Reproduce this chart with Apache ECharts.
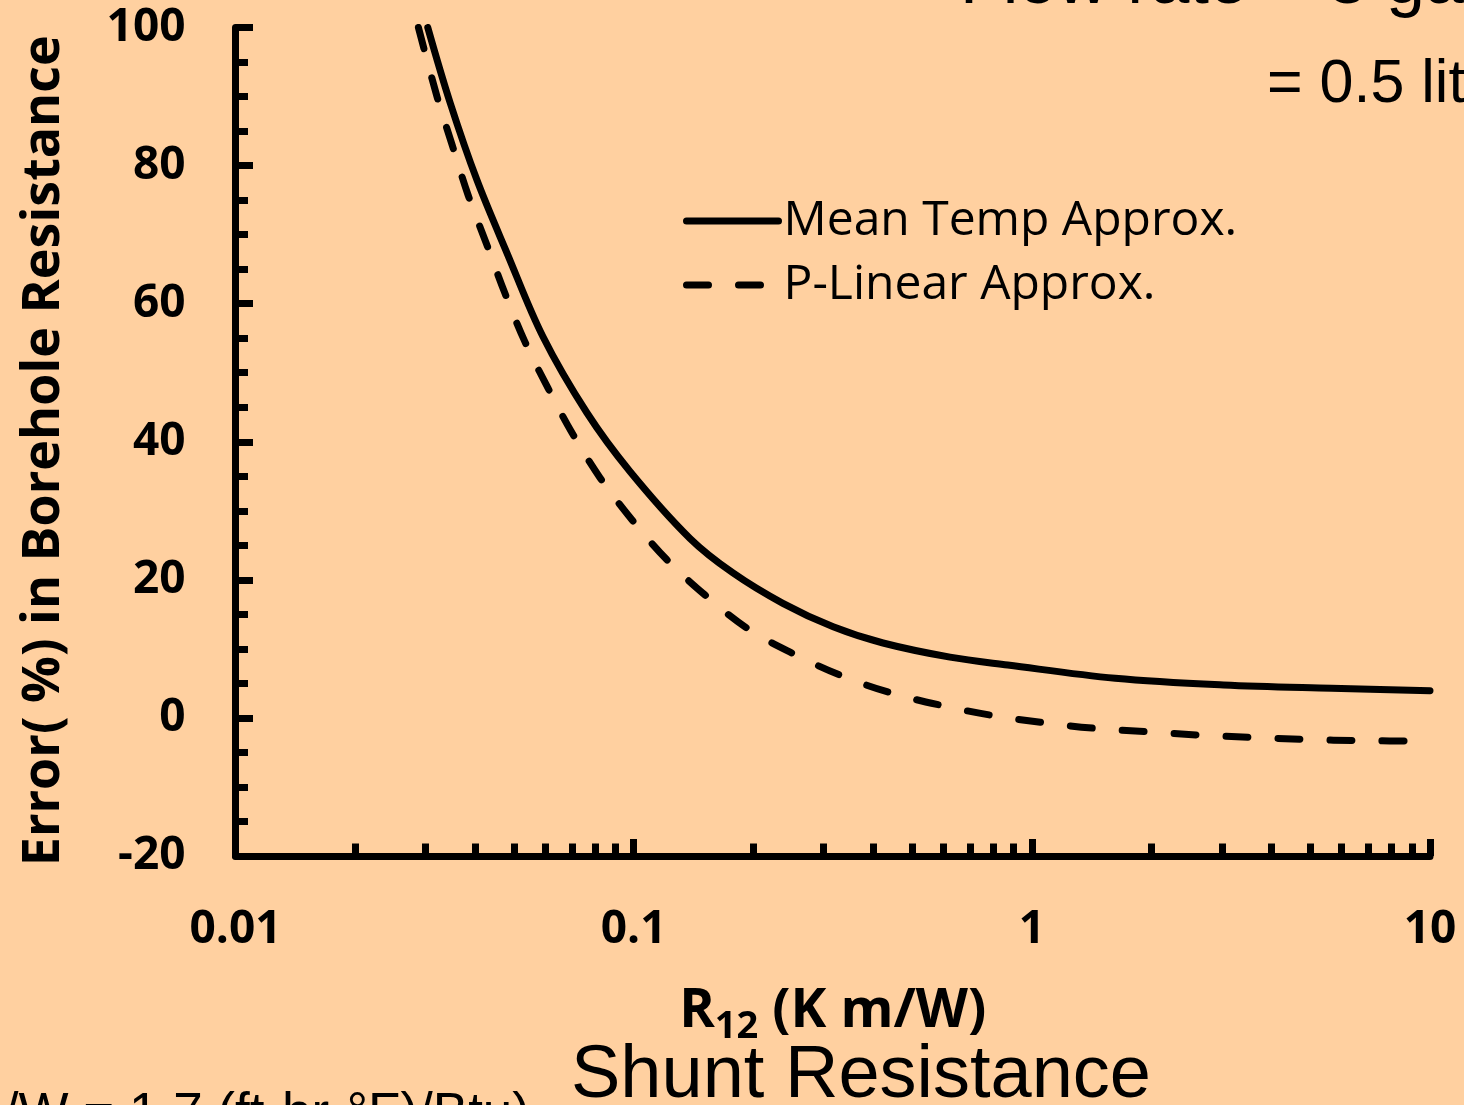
<!DOCTYPE html>
<html>
<head>
<meta charset="utf-8">
<script src="https://cdn.jsdelivr.net/npm/echarts@6/dist/echarts.min.js"></script>
<style>
  html, body { margin: 0; padding: 0; background: #FFD0A0; }
  #chart { width: 1464px; height: 1105px; }
</style>
</head>
<body>
<div id="chart"></div>
<script>
// ---- data ----
const seriesNames = ['Mean Temp Approx.', 'P-Linear Approx.'];

const meanTempX = [0.0304, 0.0346, 0.0404, 0.0481, 0.0592, 0.0763, 0.0979, 0.1385, 0.1776, 0.237, 0.317, 0.423, 0.623, 0.870, 1.62, 3.03, 5.66, 10];
const meanTempY = [100, 89.1, 77.9, 67.3, 55.2, 44.2, 35.7, 26.0, 21.0, 16.6, 13.2, 10.85, 8.8, 7.66, 5.74, 4.77, 4.29, 3.94];

const pLinearX = [0.0288, 0.0321, 0.0350, 0.0384, 0.0428, 0.0475, 0.0533, 0.0609, 0.0700, 0.0823, 0.099, 0.1212, 0.1511, 0.1925, 0.2498, 0.3297, 0.4351, 0.5864, 0.7845, 1.072, 1.434, 1.96, 2.623, 3.581, 4.793, 6.823, 10];
const pLinearY = [100, 89.9, 83.0, 75.7, 68.5, 61.5, 54.5, 47.8, 41.3, 34.8, 28.7, 22.9, 17.8, 13.0, 9.4, 6.2, 3.75, 1.87, 0.42, -0.7, -1.5, -2.0, -2.48, -2.81, -3.1, -3.3, -3.35];

const xMajorTicks = [0.01, 0.1, 1, 10];
const xMinorTicks = [0.02, 0.03, 0.04, 0.05, 0.06, 0.07, 0.08, 0.09,
                     0.2, 0.3, 0.4, 0.5, 0.6, 0.7, 0.8, 0.9,
                     2, 3, 4, 5, 6, 7, 8, 9];
const yMin = -20, yMax = 100, yStep = 20;

const xTitle = '{b|R}{s|12}{b| (K m/W)}';
const yTitle = 'Error( %) in Borehole Resistance';
const topLine1 = 'Flow rate = 8 gal/min';
const topLine2 = '= 0.5 liter/s';
const bottomNote = '(1 K m/W = 1.7 (ft-hr-°F)/Btu)';
const bottomTitle = 'Shunt Resistance';

// ---- build ----
const pair = (xs, ys) => xs.map((x, i) => [x, ys[i]]);
const BOLD = 'Open Sans';
const chart = echarts.init(document.getElementById('chart'), null, { renderer: 'canvas' });

const tickLine = { color: '#000', width: 7 };

chart.setOption({
  backgroundColor: '#FFD0A0',
  animation: false,
  grid: { left: 235.5, right: 34, top: 27.5, bottom: 249, containLabel: false },
  legend: {
    orient: 'vertical',
    left: 683,
    top: 197,
    padding: 0,
    itemWidth: 92,
    itemHeight: 14,
    itemGap: 16,
    lineStyle: { width: 'inherit' },
    itemStyle: { opacity: 0 },
    textStyle: { fontFamily: 'Open Sans', fontSize: 48, lineHeight: 48, color: '#000' },
    data: seriesNames
  },
  xAxis: [
    {
      type: 'log', logBase: 10, min: 0.01, max: 10,
      name: xTitle, nameLocation: 'middle', nameGap: 122,
      nameTextStyle: {
        rich: {
          b: { fontFamily: BOLD, fontWeight: 'bold', fontSize: 54, lineHeight: 68, color: '#000', verticalAlign: 'middle' },
          s: { fontFamily: BOLD, fontWeight: 'bold', fontSize: 38, lineHeight: 32, color: '#000', verticalAlign: 'bottom' }
        }
      },
      axisLine: { show: true, onZero: false, lineStyle: tickLine },
      axisTick: { show: true, inside: true, length: 17, lineStyle: tickLine, customValues: xMajorTicks },
      axisLabel: {
        show: true, margin: 51, customValues: xMajorTicks,
        fontFamily: BOLD, fontWeight: 'bold', fontSize: 46, color: '#000',
        formatter: v => String(+v.toPrecision(6))
      },
      splitLine: { show: false },
      minorTick: { show: false }
    },
    {
      type: 'log', logBase: 10, min: 0.01, max: 10,
      position: 'bottom',
      axisLine: { show: false, onZero: false },
      axisTick: { show: true, inside: true, length: 12.5, lineStyle: tickLine, customValues: xMinorTicks },
      axisLabel: { show: false },
      splitLine: { show: false }
    }
  ],
  yAxis: {
    type: 'value', min: yMin, max: yMax, interval: yStep,
    name: yTitle, nameLocation: 'middle', nameGap: 165,
    nameTextStyle: { fontFamily: BOLD, fontWeight: 'bold', fontSize: 52, color: '#000', padding: [0, 18, 0, 0] },
    axisLine: { show: true, lineStyle: tickLine },
    axisTick: { show: true, inside: true, length: 17.5, lineStyle: tickLine },
    minorTick: { show: true, splitNumber: 4, length: 12.5, lineStyle: tickLine },
    axisLabel: { margin: 50, fontFamily: BOLD, fontWeight: 'bold', fontSize: 46, color: '#000' },
    splitLine: { show: false },
    minorSplitLine: { show: false }
  },
  series: [
    {
      name: seriesNames[0], type: 'line', xAxisIndex: 0,
      data: pair(meanTempX, meanTempY),
      showSymbol: false, symbol: 'none', smooth: 0.35, clip: true,
      lineStyle: { color: '#000', width: 7, cap: 'round', join: 'round' },
      itemStyle: { color: '#000' }
    },
    {
      name: seriesNames[1], type: 'line', xAxisIndex: 0,
      data: pair(pLinearX, pLinearY),
      showSymbol: false, symbol: 'none', smooth: 0.35, clip: true,
      lineStyle: { color: '#000', width: 7, type: [22, 30], cap: 'round', join: 'round' },
      itemStyle: { color: '#000' }
    }
  ],
  graphic: [
    { type: 'text', x: 960, y: -16, silent: true,
      style: { text: topLine1, font: '70px "Liberation Sans"', fill: '#000', align: 'left', verticalAlign: 'middle' } },
    { type: 'text', x: 1267, y: 85, silent: true,
      style: { text: topLine2, font: '61px "Liberation Sans"', fill: '#000', align: 'left', verticalAlign: 'middle' } },
    { type: 'text', x: 530, y: 1115, silent: true,
      style: { text: bottomNote, font: '53px "Liberation Sans"', fill: '#000', align: 'right', verticalAlign: 'middle' } },
    { type: 'text', x: 861, y: 1077, silent: true,
      style: { text: bottomTitle, font: '74px "Liberation Sans"', fill: '#000', align: 'center', verticalAlign: 'middle' } }
  ]
});
</script>
</body>
</html>
